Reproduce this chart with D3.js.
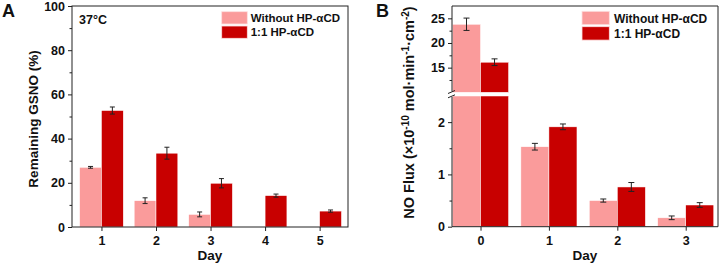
<!DOCTYPE html>
<html><head><meta charset="utf-8">
<script src="https://cdn.jsdelivr.net/npm/d3@7"></script>
<style>body{margin:0;background:#fff}svg{display:block;font-family:"Liberation Sans",Arial,sans-serif;font-weight:bold}</style>
</head><body><svg id="c" width="721" height="264"></svg>
<script>
// ---- Data ----
const seriesNames = ["Without HP-\u03b1CD", "1:1 HP-\u03b1CD"];
const colors = ["#FA9B9B", "#C80000"];
// Panel A
const daysA = [1, 2, 3, 4, 5];
const withoutA = [27.0, 11.9, 5.7, null, null];
const withoutAErr = [0.4, 1.3, 1.1, null, null];
const withA = [52.7, 33.4, 19.8, 14.2, 7.2];
const withAErr = [1.6, 2.7, 2.1, 0.7, 0.5];
const yTicksA = [0, 20, 40, 60, 80, 100];
// Panel B
const daysB = [0, 1, 2, 3];
const withoutB = [23.8, 1.53, 0.50, 0.17];
const withoutBErr = [1.25, 0.064, 0.03, 0.035];
const withB = [16.1, 1.91, 0.76, 0.415];
const withBErr = [0.68, 0.055, 0.085, 0.045];
const yTicksBLow = [0, 1, 2];
const yTicksBHigh = [15, 20, 25];

const svg = d3.select("#c");
const axisColor = "#222";

function drawErr(g, x, yTop, yBot, cap) {
  g.append("line").attr("x1", x).attr("x2", x).attr("y1", yTop).attr("y2", yBot).attr("stroke", axisColor).attr("stroke-width", 1);
  [yTop, yBot].forEach(y => g.append("line").attr("x1", x - cap).attr("x2", x + cap).attr("y1", y).attr("y2", y).attr("stroke", axisColor).attr("stroke-width", 1));
}

function legend(g, x, y, w, h, gap, tx, fs) {
  seriesNames.forEach((n, i) => {
    g.append("rect").attr("x", x).attr("y", y + i * (h + gap)).attr("width", w).attr("height", h)
      .attr("fill", colors[i]).attr("stroke", "#fde0e0").attr("stroke-width", 0.8);
    g.append("text").attr("x", tx).attr("y", y + i * (h + gap) + h - 2).attr("font-size", fs).attr("fill", "#111").text(n);
  });
}

// ================= Panel A =================
{
  const L = 72, R = 348, T = 6, B = 227;
  const x = d3.scaleLinear().domain([0.46, 5.52]).range([L, R]);
  const y = d3.scaleLinear().domain([0, 100]).range([B, T]);
  const bw = x(0.4) - x(0);
  const g = svg.append("g");
  daysA.forEach((d, i) => {
    if (withoutA[i] != null) {
      g.append("rect").attr("x", x(d - 0.4)).attr("width", bw).attr("y", y(withoutA[i])).attr("height", y(0) - y(withoutA[i]))
        .attr("fill", colors[0]).attr("stroke", "#fff").attr("stroke-width", 0.5);
    }
    g.append("rect").attr("x", x(d)).attr("width", bw).attr("y", y(withA[i])).attr("height", y(0) - y(withA[i]))
      .attr("fill", colors[1]).attr("stroke", "#fff").attr("stroke-width", 0.5);
  });
  daysA.forEach((d, i) => {
    if (withoutA[i] != null) drawErr(g, x(d - 0.2), y(withoutA[i] + withoutAErr[i]), y(withoutA[i] - withoutAErr[i]), 2.5);
    drawErr(g, x(d + 0.2), y(withA[i] + withAErr[i]), y(withA[i] - withAErr[i]), 2.5);
  });
  // frame
  g.append("rect").attr("x", L).attr("y", T).attr("width", R - L).attr("height", B - T).attr("fill", "none").attr("stroke", axisColor).attr("stroke-width", 1);
  // y axis
  const ya = g.append("g").attr("transform", `translate(${L},0)`)
    .call(d3.axisLeft(y).tickValues(yTicksA).tickSize(4).tickPadding(3).tickFormat(d3.format("d")));
  ya.select(".domain").remove();
  ya.selectAll("text").attr("font-size", 12.5).attr("font-family", null).attr("fill", "#111");
  ya.selectAll("line").attr("stroke", axisColor);
  const yam = g.append("g").attr("transform", `translate(${L},0)`)
    .call(d3.axisLeft(y).tickValues([10, 30, 50, 70, 90]).tickSize(2.5).tickFormat(""));
  yam.select(".domain").remove(); yam.selectAll("line").attr("stroke", axisColor);
  // x axis
  const xa = g.append("g").attr("transform", `translate(0,${B})`)
    .call(d3.axisBottom(x).tickValues(daysA).tickSize(4).tickPadding(5).tickFormat(d3.format("d")));
  xa.select(".domain").remove();
  xa.selectAll("text").attr("font-size", 12.5).attr("font-family", null).attr("fill", "#111");
  xa.selectAll("line").attr("stroke", axisColor);
  g.append("text").attr("x", (L + R) / 2).attr("y", 260).attr("text-anchor", "middle").attr("font-size", 13.5).attr("fill", "#111").text("Day");
  g.append("text").attr("transform", `translate(38,119) rotate(-90)`).attr("text-anchor", "middle").attr("font-size", 13.5).attr("fill", "#111").text("Remaining GSNO (%)");
  g.append("text").attr("x", 79).attr("y", 24).attr("font-size", 12.5).attr("fill", "#111").text("37\u00b0C");
  g.append("text").attr("x", 2).attr("y", 17).attr("font-size", 18).attr("fill", "#111").text("A");
  legend(g, 221.7, 11.7, 25.6, 12.3, 2, 250.7, 11.5);
}

// ================= Panel B =================
{
  const L = 452, R = 718, T = 6, B = 226.7;
  const brLow = 96, brHigh = 92.3;
  const x = d3.scaleLinear().domain([-0.417, 3.472]).range([L, R]);
  const yL = d3.scaleLinear().domain([0, 2.5]).range([B, brLow]);
  const yH = d3.scaleLinear().domain([10, 27.5]).range([brHigh, T]);
  const bw = x(0.41) - x(0);
  const g = svg.append("g");
  const series = [[withoutB, withoutBErr, -0.41, colors[0]], [withB, withBErr, 0, colors[1]]];
  series.forEach(([vals, errs, off, col]) => {
    daysB.forEach((d, i) => {
      const v = vals[i];
      if (v > 2.5) {
        g.append("rect").attr("x", x(d + off)).attr("width", bw).attr("y", yL(2.5)).attr("height", yL(0) - yL(2.5))
          .attr("fill", col).attr("stroke", "#fff").attr("stroke-width", 0.5);
        g.append("rect").attr("x", x(d + off)).attr("width", bw).attr("y", yH(v)).attr("height", yH(10) - yH(v))
          .attr("fill", col).attr("stroke", "#fff").attr("stroke-width", 0.5);
      } else {
        g.append("rect").attr("x", x(d + off)).attr("width", bw).attr("y", yL(v)).attr("height", yL(0) - yL(v))
          .attr("fill", col).attr("stroke", "#fff").attr("stroke-width", 0.5);
      }
    });
  });
  series.forEach(([vals, errs, off]) => {
    daysB.forEach((d, i) => {
      const v = vals[i], e = errs[i];
      const ys = v > 2.5 ? yH : yL;
      drawErr(g, x(d + off + 0.205), ys(v + e), ys(v - e), 3);
    });
  });
  // frame: left axis with gap, bottom, right, top
  g.append("line").attr("x1", L).attr("x2", L).attr("y1", T).attr("y2", brHigh - 1).attr("stroke", axisColor);
  g.append("line").attr("x1", L).attr("x2", L).attr("y1", brLow + 1).attr("y2", B).attr("stroke", axisColor);
  g.append("line").attr("x1", L).attr("x2", R).attr("y1", B).attr("y2", B).attr("stroke", axisColor);
  g.append("line").attr("x1", L).attr("x2", R).attr("y1", T).attr("y2", T).attr("stroke", axisColor);
  g.append("line").attr("x1", R).attr("x2", R).attr("y1", T).attr("y2", B).attr("stroke", axisColor);
  // break marks
  [brHigh - 0.3, brLow + 0.3].forEach(yy => {
    g.append("line").attr("x1", L - 4).attr("x2", L + 3).attr("y1", yy + 1.5).attr("y2", yy - 1.5).attr("stroke", axisColor).attr("stroke-width", 1);
  });
  const style = a => { a.select(".domain").remove(); a.selectAll("text").attr("font-size", 12.5).attr("font-family", null).attr("fill", "#111"); a.selectAll("line").attr("stroke", axisColor); };
  const yal = g.append("g").attr("transform", `translate(${L},0)`)
    .call(d3.axisLeft(yL).tickValues(yTicksBLow).tickSize(4).tickPadding(3).tickFormat(d3.format("d")));
  style(yal);
  const yah = g.append("g").attr("transform", `translate(${L},0)`)
    .call(d3.axisLeft(yH).tickValues(yTicksBHigh).tickSize(4).tickPadding(3).tickFormat(d3.format("d")));
  style(yah);
  const m1 = g.append("g").attr("transform", `translate(${L},0)`).call(d3.axisLeft(yL).tickValues([0.5, 1.5]).tickSize(2.5).tickFormat(""));
  style(m1);
  const m2 = g.append("g").attr("transform", `translate(${L},0)`).call(d3.axisLeft(yH).tickValues([12.5, 17.5, 22.5]).tickSize(2.5).tickFormat(""));
  style(m2);
  const xa = g.append("g").attr("transform", `translate(0,${B})`)
    .call(d3.axisBottom(x).tickValues(daysB).tickSize(4).tickPadding(5).tickFormat(d3.format("d")));
  style(xa);
  g.append("text").attr("x", (L + R) / 2).attr("y", 260).attr("text-anchor", "middle").attr("font-size", 13.5).attr("fill", "#111").text("Day");
  const yl = g.append("text").attr("transform", `translate(414,112.5) rotate(-90)`).attr("text-anchor", "middle").attr("font-size", 14.5).attr("fill", "#111");
  yl.append("tspan").text("NO Flux (\u00d710");
  yl.append("tspan").attr("dy", -5.5).attr("font-size", 10).text("-10");
  yl.append("tspan").attr("dy", 5.5).text(" mol\u00b7min");
  yl.append("tspan").attr("dy", -5.5).attr("font-size", 10).text("-1");
  yl.append("tspan").attr("dy", 5.5).text("\u00b7cm");
  yl.append("tspan").attr("dy", -5.5).attr("font-size", 10).text("-2");
  yl.append("tspan").attr("dy", 5.5).text(")");
  g.append("text").attr("x", 376).attr("y", 17).attr("font-size", 18).attr("fill", "#111").text("B");
  legend(g, 582, 11.3, 27.3, 13.4, 2, 614, 12);
}
</script></body></html>
